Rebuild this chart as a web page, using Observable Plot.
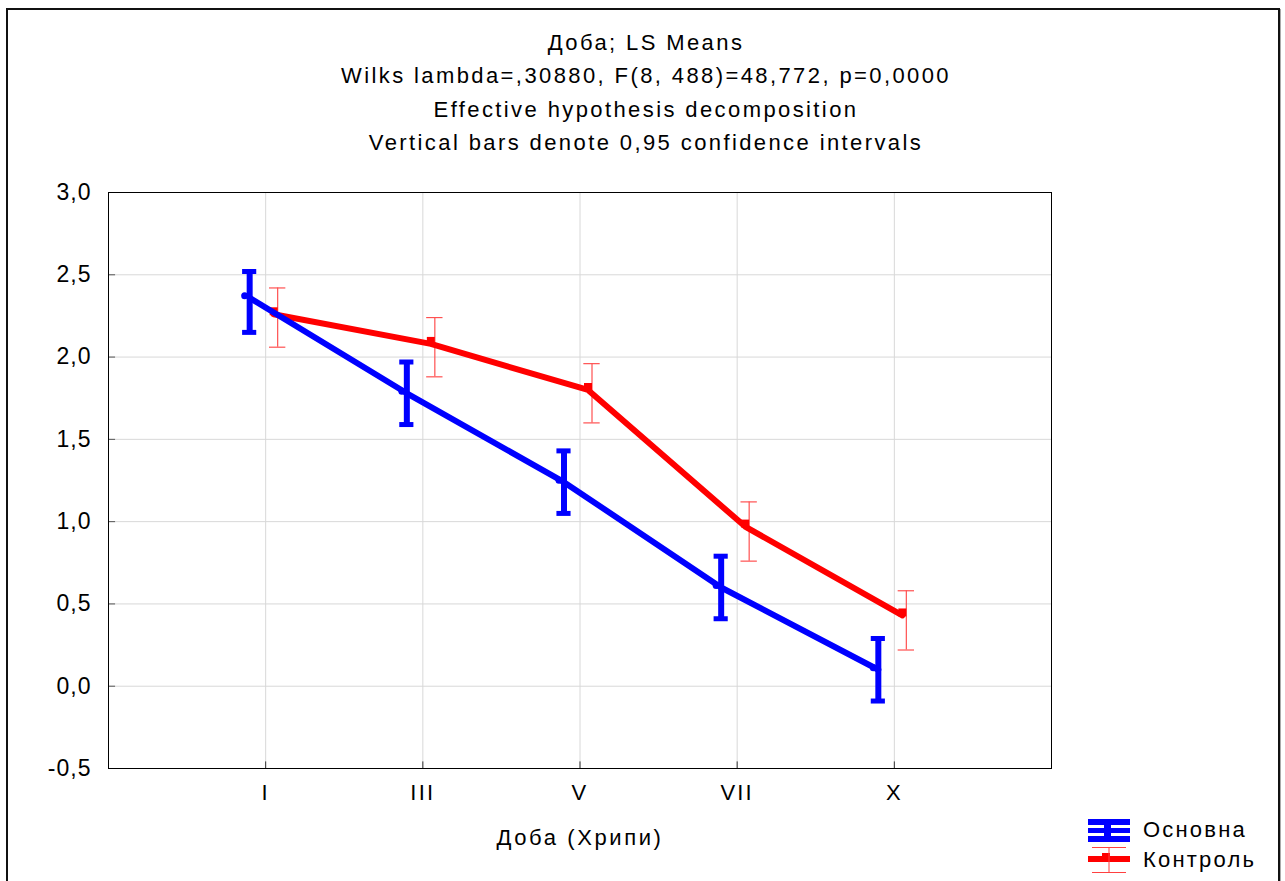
<!DOCTYPE html>
<html>
<head>
<meta charset="utf-8">
<script src="https://cdn.jsdelivr.net/npm/d3@7"></script>
<script src="https://cdn.jsdelivr.net/npm/@observablehq/plot@0.6"></script>
<style>
  html, body { margin: 0; padding: 0; background: #fff; }
  body { width: 1285px; height: 881px; position: relative; overflow: hidden;
         font-family: "Liberation Sans", Arial, sans-serif; color: #000; }
  #frame { position: absolute; left: 6px; top: 8px; width: 1270px; height: 900px;
           border-top: 2px solid #111; border-left: 2px solid #111; border-right: 2px solid #111;
           box-shadow: 1px 1px 0 #aaa; }
  #title { position: absolute; left: 0; top: 26px; width: 1292px; text-align: center;
           font-size: 22px; line-height: 33.3px; letter-spacing: 2.4px; }
  #chart { position: absolute; left: 0; top: 0; }
  #xlabel { position: absolute; left: 380px; width: 400px; top: 825px; text-align: center;
            font-size: 22px; letter-spacing: 2.6px; }
  #legend { position: absolute; left: 1088px; top: 815px; font-size: 22px; letter-spacing: 2.2px; }
  .li { height: 30px; display: flex; align-items: center; }
  .li svg { margin-right: 13px; }
  #chart svg g[aria-label="y-axis tick label"] text { letter-spacing: 1px; }
</style>
</head>
<body>
<div id="frame"></div>
<div id="chart"></div>
<div id="title">
  <div>Доба; LS Means</div>
  <div>Wilks lambda=,30880, F(8, 488)=48,772, p=0,0000</div>
  <div>Effective hypothesis decomposition</div>
  <div>Vertical bars denote 0,95 confidence intervals</div>
</div>
<div id="xlabel">Доба (Хрипи)</div>
<div id="legend">
  <div class="li">
    <svg width="42" height="26"><rect x="0" y="2" width="42" height="6" fill="#0000ff"/><rect x="0" y="11" width="42" height="5" fill="#0000ff"/><rect x="0" y="19" width="42" height="6" fill="#0000ff"/><rect x="16" y="2" width="7" height="23" fill="#0000ff"/></svg>
    <span>Основна</span>
  </div>
  <div class="li">
    <svg width="42" height="30"><line x1="4" y1="2.5" x2="38" y2="2.5" stroke="#ff4040" stroke-width="1"/><rect x="0" y="11" width="42" height="6" fill="#ff0000"/><rect x="14" y="8" width="8" height="9" fill="#ff0000"/><line x1="21" y1="2" x2="21" y2="28" stroke="#ff4040" stroke-width="1"/><line x1="4" y1="27.5" x2="38" y2="27.5" stroke="#ff4040" stroke-width="1"/></svg>
    <span>Контроль</span>
  </div>
</div>
<script>
// ---- data ----
const days = ["I", "III", "V", "VII", "X"];
const dayIndex = [1, 2, 3, 4, 5];
const osnovnaMean = [2.36, 1.78, 1.24, 0.60, 0.10];
const osnovnaLow  = [2.15, 1.59, 1.05, 0.41, -0.09];
const osnovnaHigh = [2.52, 1.97, 1.43, 0.79, 0.29];
const kontrolMean = [2.26, 2.08, 1.80, 0.97, 0.43];
const kontrolLow  = [2.06, 1.88, 1.60, 0.76, 0.22];
const kontrolHigh = [2.42, 2.24, 1.96, 1.12, 0.58];
const yTicks = [-0.5, 0, 0.5, 1, 1.5, 2, 2.5, 3];

const blue = dayIndex.map((i, k) => ({i, day: days[k], mean: osnovnaMean[k], low: osnovnaLow[k], high: osnovnaHigh[k]}));
const red  = dayIndex.map((i, k) => ({i, day: days[k], mean: kontrolMean[k], low: kontrolLow[k], high: kontrolHigh[k]}));

const fmt = d => d3.format(".1f")(d).replace(".", ",").replace("−", "-");
const BLUE = "#0000ff", RED = "#ff0000", REDBAR = "#ff5050";
const capB = 0.045, capR = 0.052;

const chart = Plot.plot({
  width: 1285, height: 881,
  marginLeft: 108, marginRight: 234, marginTop: 192, marginBottom: 113,
  style: {fontFamily: "'Liberation Sans', Arial, sans-serif", fontSize: "22px", background: "transparent", overflow: "visible", letterSpacing: "2.2px"},
  x: {type: "linear", domain: [0, 6], label: null},
  y: {domain: [-0.5, 3], label: null},
  marks: [
    Plot.ruleX(dayIndex, {stroke: "#d8d8d8", strokeWidth: 1}),
    Plot.ruleY(yTicks, {stroke: "#d8d8d8", strokeWidth: 1}),
    Plot.ruleY(yTicks, {x1: 0, x2: 0.045, stroke: "#555", strokeWidth: 1}),
    Plot.ruleX(dayIndex, {y1: -0.5, y2: -0.46, stroke: "#333", strokeWidth: 1}),
    Plot.frame({stroke: "#000", strokeWidth: 1}),
    Plot.axisY({ticks: yTicks, tickFormat: fmt, tickSize: 0, tickPadding: 17, label: null, fontSize: 23}),
    Plot.axisX({ticks: dayIndex, tickFormat: i => days[i - 1], tickSize: 0, tickPadding: 16, label: null}),
    // red series
    Plot.ruleX(red, {x: "i", y1: "low", y2: "high", dx: 12, stroke: REDBAR, strokeWidth: 1.2}),
    Plot.ruleY(red, {y: "low", x1: d => d.i - capR, x2: d => d.i + capR, dx: 12, stroke: REDBAR, strokeWidth: 1.2}),
    Plot.ruleY(red, {y: "high", x1: d => d.i - capR, x2: d => d.i + capR, dx: 12, stroke: REDBAR, strokeWidth: 1.2}),
    Plot.line(red, {x: "i", y: "mean", dx: 8, stroke: RED, strokeWidth: 6}),
    Plot.dot(red, {x: "i", y: "mean", dx: 8, dy: -3, symbol: "square", r: 4.5, fill: RED}),
    // blue series
    Plot.line(blue, {x: "i", y: "mean", dx: -16, stroke: BLUE, strokeWidth: 6}),
    Plot.ruleX(blue, {x: "i", y1: "low", y2: "high", dx: -16, stroke: BLUE, strokeWidth: 6}),
    Plot.ruleY(blue, {y: "low", x1: d => d.i - capB, x2: d => d.i + capB, dx: -16, stroke: BLUE, strokeWidth: 5}),
    Plot.ruleY(blue, {y: "high", x1: d => d.i - capB, x2: d => d.i + capB, dx: -16, stroke: BLUE, strokeWidth: 5}),
    Plot.dot(blue, {x: "i", y: "mean", dx: -21, dy: -2, r: 3.5, fill: BLUE})
  ]
});
document.getElementById("chart").appendChild(chart);
</script>
</body>
</html>
